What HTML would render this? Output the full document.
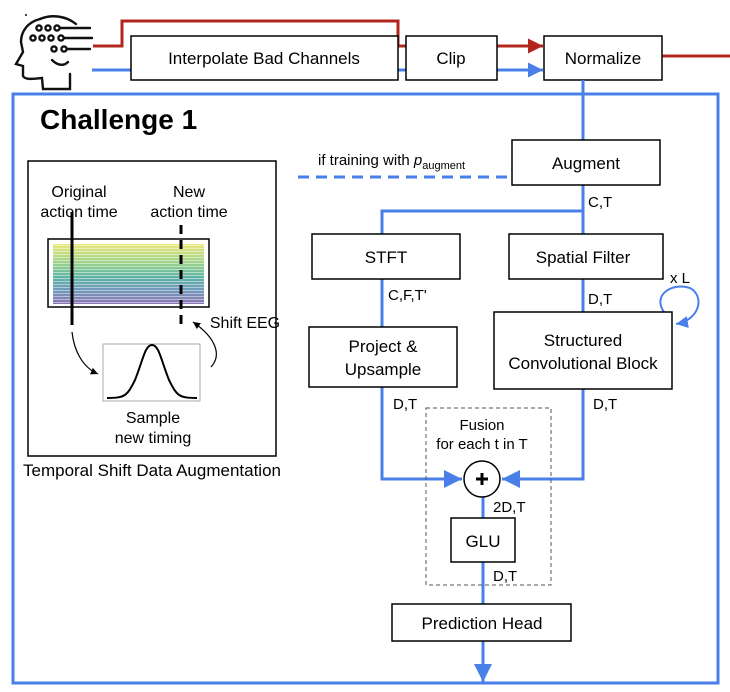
<!DOCTYPE html>
<html><head><meta charset="utf-8"><style>
html,body{margin:0;padding:0;background:#fff;}
svg{display:block;font-family:"Liberation Sans",Arial,sans-serif;}
</style></head><body>
<svg width="730" height="692" viewBox="0 0 730 692" xmlns="http://www.w3.org/2000/svg">
<defs>
<marker id="ab" viewBox="0 0 10 10" refX="10" refY="5" markerWidth="5" markerHeight="5" orient="auto" markerUnits="strokeWidth"><path d="M0,0 L10,5 L0,10 z" fill="#4a7fea"/></marker>
<marker id="ar" viewBox="0 0 10 10" refX="10" refY="5" markerWidth="5" markerHeight="5" orient="auto" markerUnits="strokeWidth"><path d="M0,0 L10,5 L0,10 z" fill="#b3261e"/></marker>
<marker id="ak" viewBox="0 0 10 10" refX="10" refY="5" markerWidth="6" markerHeight="6" orient="auto" markerUnits="strokeWidth"><path d="M0,0 L10,5 L0,10 z" fill="#000"/></marker>
<marker id="al" viewBox="0 0 10 10" refX="10" refY="5" markerWidth="6" markerHeight="6" orient="auto" markerUnits="strokeWidth"><path d="M0,0 L10,5 L0,10 z" fill="#4a7fea"/></marker>
<linearGradient id="eeg" x1="0" y1="0" x2="0" y2="1">
<stop offset="0" stop-color="#ece77a"/><stop offset="0.3" stop-color="#9fd48a"/><stop offset="0.55" stop-color="#5fb5a4"/><stop offset="0.75" stop-color="#6f9cba"/><stop offset="1" stop-color="#8c74b4"/>
</linearGradient>
<pattern id="str" width="10" height="3" patternUnits="userSpaceOnUse"><rect width="10" height="1" y="2" fill="#fff" opacity="0.45"/></pattern>
</defs>

<!-- head icon -->
<g fill="none" stroke="#111" stroke-width="2.4" stroke-linecap="round">
<path d="M40,19 C28,22 21,31 21,42 L23,52 L16,64 L23,66 L23,76 C25,80 33,79 42,78 L43,89 L70,89 L70,74"/>
<path d="M40,19 C52,14 66,16 76,24"/>
<path d="M52,60 C58,66 64,66 68,62"/>
<circle cx="39" cy="28" r="2.6"/><circle cx="48" cy="28" r="2.6"/><circle cx="57" cy="28" r="2.6"/>
<circle cx="33" cy="38" r="2.6"/><circle cx="42" cy="38" r="2.6"/><circle cx="51" cy="38" r="2.6"/><circle cx="61" cy="38" r="2.6"/>
<circle cx="54" cy="49" r="2.6"/><circle cx="64" cy="49" r="2.6"/>
<path d="M60,28 L90,28 M64,38 L92,38 M67,49 L90,49"/>
</g>
<circle cx="26" cy="15" r="1" fill="#111"/>

<!-- top red line -->
<path d="M93,46 L122,46 L122,21 L398,21 L398,46 L543,46" fill="none" stroke="#b3261e" stroke-width="3" marker-end="url(#ar)"/>
<path d="M662,56 L730,56" stroke="#b3261e" stroke-width="3"/>
<!-- top blue line -->
<path d="M92,70 L131,70 M398,70 L406,70" stroke="#4a7fea" stroke-width="3"/>
<path d="M497,70 L543,70" stroke="#4a7fea" stroke-width="3" marker-end="url(#ab)"/>

<g fill="#fff" stroke="#000" stroke-width="1.5">
<rect x="131" y="36" width="267" height="44"/>
<rect x="406" y="36" width="91" height="44"/>
<rect x="544" y="36" width="118" height="44"/>
</g>
<g font-size="17" text-anchor="middle" fill="#000">
<text x="264" y="64">Interpolate Bad Channels</text>
<text x="451" y="64">Clip</text>
<text x="603" y="64">Normalize</text>
</g>

<!-- big blue frame -->
<rect x="13" y="94" width="705" height="589" fill="none" stroke="#4a7fea" stroke-width="3"/>
<text x="40" y="129" font-size="28" font-weight="bold">Challenge 1</text>

<!-- blue connectors -->
<g stroke="#4a7fea" stroke-width="3" fill="none">
<path d="M583,80 L583,140"/>
<path d="M583,185 L583,234"/>
<path d="M583,211 L382,211 L382,234"/>
<path d="M382,279 L382,327"/>
<path d="M583,279 L583,312"/>
<path d="M382,387 L382,479 L462,479" marker-end="url(#al)"/>
<path d="M583,389 L583,479 L502,479" marker-end="url(#al)"/>
<path d="M483,497 L483,518"/>
<path d="M483,562 L483,604"/>
<path d="M483,641 L483,682" marker-end="url(#al)"/>
<path d="M298,177 L512,177" stroke-dasharray="11,7"/>
</g>
<path d="M664,312 C652,295 672,282 690,288 C705,296 700,320 676,324" fill="none" stroke="#4a7fea" stroke-width="2" marker-end="url(#al)"/>

<!-- dashed fusion box -->
<rect x="426" y="408" width="125" height="177" fill="none" stroke="#555" stroke-width="1" stroke-dasharray="4,3"/>

<g fill="#fff" stroke="#000" stroke-width="1.5">
<rect x="512" y="140" width="148" height="45"/>
<rect x="312" y="234" width="148" height="45"/>
<rect x="509" y="234" width="154" height="45"/>
<rect x="309" y="327" width="148" height="60"/>
<rect x="494" y="312" width="178" height="77"/>
<circle cx="482" cy="479" r="18"/>
<rect x="451" y="518" width="64" height="44"/>
<rect x="392" y="604" width="179" height="37"/>
</g>
<path d="M476,479 L488,479 M482,473 L482,485" stroke="#000" stroke-width="3"/>

<g font-size="17" text-anchor="middle" fill="#000">
<text x="586" y="169">Augment</text>
<text x="386" y="263">STFT</text>
<text x="583" y="263">Spatial Filter</text>
<text x="383" y="352">Project &amp;</text>
<text x="383" y="375">Upsample</text>
<text x="583" y="346">Structured</text>
<text x="583" y="369">Convolutional Block</text>
<text x="483" y="547">GLU</text>
<text x="482" y="629">Prediction Head</text>
</g>
<g font-size="15" fill="#000">
<text x="588" y="207">C,T</text>
<text x="388" y="300">C,F,T'</text>
<text x="588" y="304">D,T</text>
<text x="670" y="283">x L</text>
<text x="393" y="409">D,T</text>
<text x="593" y="409">D,T</text>
<text x="493" y="512">2D,T</text>
<text x="493" y="581">D,T</text>
<text x="318" y="165" font-size="15">if training with <tspan font-style="italic">p</tspan><tspan font-size="11" dy="4">augment</tspan></text>
</g>
<g font-size="15" text-anchor="middle" fill="#000">
<text x="482" y="430">Fusion</text>
<text x="482" y="449">for each t in T</text>
</g>

<!-- left inset -->
<rect x="28" y="161" width="248" height="295" fill="none" stroke="#000" stroke-width="1.5"/>
<rect x="48" y="239" width="161" height="68" fill="#fff" stroke="#000" stroke-width="1.5"/>
<rect x="53" y="244" width="151" height="60" fill="url(#eeg)"/>
<rect x="53" y="244" width="151" height="60" fill="url(#str)"/>
<path d="M72,212 L72,325" stroke="#000" stroke-width="3"/>
<path d="M181,225 L181,328" stroke="#000" stroke-width="3" stroke-dasharray="9,6"/>
<rect x="103" y="344" width="97" height="57" fill="#fff" stroke="#aaa" stroke-width="1"/>
<path d="M107,398 C125,398 127,396 135,380 C143,360 145,345 152,345 C159,345 161,360 169,380 C177,396 179,398 197,398" fill="none" stroke="#000" stroke-width="2"/>
<path d="M72,332 C74,350 82,367 98,374" fill="none" stroke="#000" stroke-width="1.2" marker-end="url(#ak)"/>
<path d="M211,367 C222,355 216,338 193,322" fill="none" stroke="#000" stroke-width="1.2" marker-end="url(#ak)"/>
<g font-size="16" text-anchor="middle" fill="#000">
<text x="79" y="197">Original</text>
<text x="79" y="217">action time</text>
<text x="189" y="197">New</text>
<text x="189" y="217">action time</text>
<text x="153" y="423">Sample</text>
<text x="153" y="443">new timing</text>
<text x="245" y="328">Shift EEG</text>
<text x="152" y="476" font-size="17">Temporal Shift Data Augmentation</text>
</g>
</svg>
</body></html>
